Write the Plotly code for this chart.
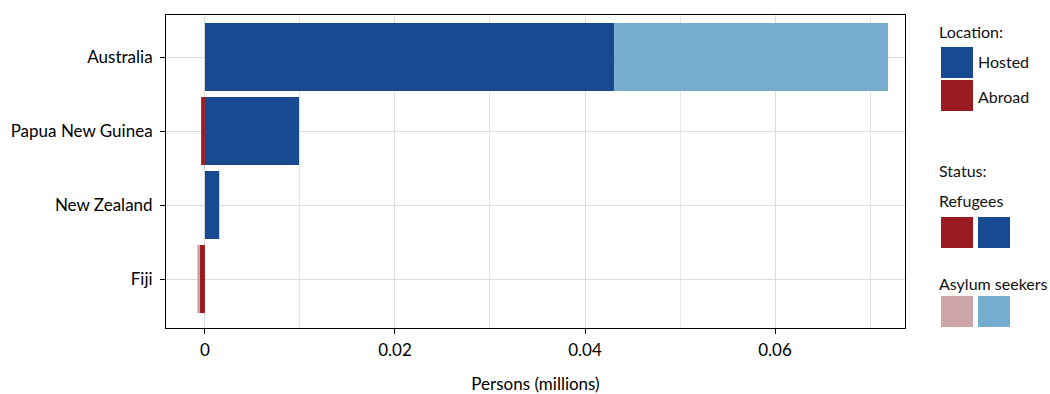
import plotly.graph_objects as go

countries = ["Australia", "Papua New Guinea", "New Zealand", "Fiji"]
hosted_refugees = [0.0431, 0.0099, 0.0015, 0.0]
hosted_asylum = [0.0288, 0.0, 0.0, 0.0]
abroad_refugees = [0.0, -0.0004, 0.0, -0.0006]
abroad_asylum = [0.0, 0.0, 0.0, -0.0002]

C_BLUE = "#174A91"
C_LBLUE = "#75ADCF"
C_RED = "#9B1C20"
C_PINK = "#CDA5A7"
FONT = "Lato"

L, R, T, B = 166, 905, 15, 328
W, H = 1050, 394

fig = go.Figure()
for vals, col, name in [
    (hosted_refugees, C_BLUE, "Hosted refugees"),
    (hosted_asylum, C_LBLUE, "Hosted asylum seekers"),
    (abroad_refugees, C_RED, "Abroad refugees"),
    (abroad_asylum, C_PINK, "Abroad asylum seekers"),
]:
    fig.add_trace(go.Bar(
        y=countries, x=vals, orientation="h", name=name,
        marker=dict(color=col, line=dict(width=0)),
        width=0.92, showlegend=False,
    ))

fig.update_layout(
    barmode="relative",
    width=W, height=H,
    margin=dict(l=L, r=W - R, t=T, b=H - B, autoexpand=False),
    plot_bgcolor="white", paper_bgcolor="white",
    font=dict(family=FONT, size=17, color="black"),
    xaxis=dict(
        range=[-0.0041, 0.07368],
        tickvals=[0, 0.02, 0.04, 0.06], ticktext=["0", "0.02", "0.04", "0.06"],
        showgrid=True, gridcolor="#DCDCDC", gridwidth=1,
        minor=dict(tickvals=[0.01, 0.03, 0.05, 0.07], showgrid=True, gridcolor="#E6E6E6", gridwidth=1, ticks=""),
        zeroline=False,
        showline=True, linecolor="black", linewidth=1, mirror=True,
        ticks="outside", ticklen=5, tickcolor="black", ticklabelstandoff=2,
        title=dict(text="Persons (millions)", standoff=20, font=dict(size=17)),
    ),
    yaxis=dict(
        type="category", categoryorder="array", categoryarray=countries,
        range=[3.662, -0.568],
        showgrid=True, gridcolor="#DCDCDC", gridwidth=1,
        showline=True, linecolor="black", linewidth=1, mirror=True,
        ticks="outside", ticklen=5, tickcolor="black", ticklabelstandoff=4,
    ),
)

PW, PH = R - L, B - T

def sq(x0, y0, x1, y1, col):
    fig.add_shape(type="rect", xref="paper", yref="paper",
                  x0=(x0 - L) / PW, x1=(x1 - L) / PW,
                  y0=(B - y1) / PH, y1=(B - y0) / PH,
                  fillcolor=col, line=dict(width=0), layer="above")

def txt(x, y, s):
    fig.add_annotation(xref="paper", yref="paper", x=(x - L) / PW, y=(B - y) / PH,
                       text=s, showarrow=False, xanchor="left", yanchor="middle",
                       xshift=-2, font=dict(family=FONT, size=16, color="#111111"))

txt(939, 31, "Location:")
sq(941, 47, 973, 78, C_BLUE)
sq(941, 80, 973, 111, C_RED)
txt(978, 62, "Hosted")
txt(978, 96, "Abroad")
txt(939, 170, "Status:")
txt(939, 201, "Refugees")
sq(941, 217, 973, 248, C_RED)
sq(978, 217, 1010, 248, C_BLUE)
txt(939, 283, "Asylum seekers")
sq(941, 296, 973, 327, C_PINK)
sq(978, 296, 1010, 327, C_LBLUE)

fig.write_html("out.html", config={"displayModeBar": False},
               post_script="document.body.style.margin='0';")
